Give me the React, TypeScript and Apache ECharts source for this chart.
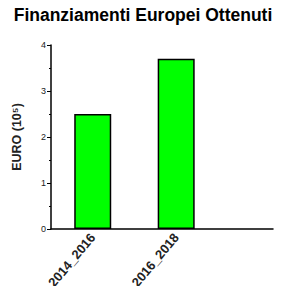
import React, { useEffect, useRef } from "react";
import * as echarts from "echarts";

const categories = ["2014_2016", "2016_2018"];
const categoryPositions = [0.5, 1.5];
const values = [2.5, 3.7];
const yTicks = [0, 1, 2, 3, 4];

export default function App() {
  const ref = useRef<HTMLDivElement>(null);
  useEffect(() => {
    if (!ref.current) return;
    const chart = echarts.init(ref.current, undefined, { renderer: "svg" });
    chart.setOption({
      animation: false,
      title: {
        text: "Finanziamenti Europei Ottenuti",
        left: "center",
        top: 1,
        textStyle: { fontFamily: "Liberation Sans", fontSize: 17.5, fontWeight: "bold", color: "#000" },
      },
      grid: { left: 51, right: 13, top: 45, bottom: 65 },
      xAxis: {
        type: "value",
        min: 0,
        max: 2.66,
        interval: 0.5,
        splitLine: { show: false },
        axisLine: { show: true, lineStyle: { color: "#000", width: 1.5 } },
        axisTick: { show: false },
        axisLabel: {
          rotate: 50,
          fontFamily: "Liberation Sans",
          fontSize: 13,
          fontWeight: "bold",
          color: "#222",
          margin: 6,
          showMaxLabel: false,
          formatter: (v: number) => {
            const i = categoryPositions.findIndex((p) => Math.abs(p - v) < 1e-6);
            return i >= 0 ? categories[i] : "";
          },
        },
      },
      yAxis: {
        type: "value",
        min: yTicks[0],
        max: yTicks[yTicks.length - 1],
        interval: 1,
        name: "EURO (10⁵)",
        nameLocation: "middle",
        nameGap: 28,
        nameTextStyle: { fontFamily: "Liberation Sans", fontSize: 12.5, fontWeight: "bold", color: "#222" },
        splitLine: { show: false },
        axisLine: { show: true, lineStyle: { color: "#000", width: 1.5 } },
        axisTick: { show: true, length: 4, lineStyle: { color: "#000" } },
        minorTick: { show: true, splitNumber: 2, length: 2, lineStyle: { color: "#000" } },
        axisLabel: { fontFamily: "Liberation Sans", fontSize: 9, color: "#222", margin: 5 },
      },
      series: [
        {
          type: "bar",
          barWidth: 37,
          data: categoryPositions.map((p, i) => [p, values[i]]),
          itemStyle: { color: "#00ff00", borderColor: "#000", borderWidth: 1.5 },
        },
      ],
    });
    return () => chart.dispose();
  }, []);
  return <div ref={ref} style={{ width: 286, height: 294, margin: -8 }} />;
}
